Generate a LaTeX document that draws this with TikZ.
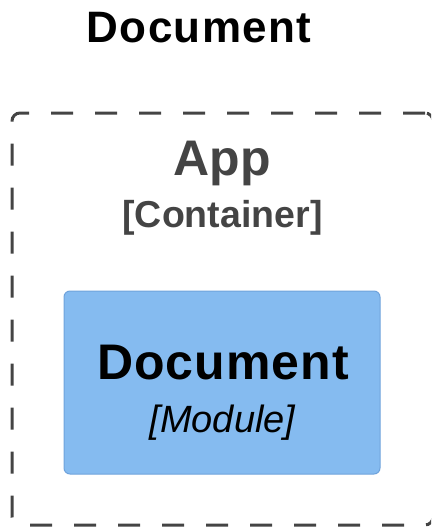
\documentclass[tikz,border=0pt]{standalone}
\usepackage{fontspec}
\setmainfont{Liberation Sans}
\definecolor{boundary}{HTML}{444444}
\definecolor{modfill}{HTML}{85BBF0}
\definecolor{modline}{HTML}{6FA3DC}
\tikzset{
  groupbox/.style={draw=boundary, line width=3pt, dash pattern=on 22pt off 22pt,
    rounded corners=8pt, rectangle, inner sep=0pt},
  modulebox/.style={draw=modline, fill=modfill, line width=1pt,
    rounded corners=6pt, rectangle, inner sep=0pt},
  label/.style={anchor=base, inner sep=0pt}
}
\begin{document}
\begin{tikzpicture}[x=1pt,y=-1pt]
\useasboundingbox (0,0) rectangle (431,527);
\clip (0,0) rectangle (431,527);
% diagram title
\node[label] (title) at (199,43) {\fontsize{44}{50}\selectfont\bfseries\addfontfeatures{LetterSpace=3}Document};
% container boundary
\node[groupbox, minimum width=421pt, minimum height=412pt] (app) at (222.5,319) {};
\node[label, text=boundary] (appname) at (222,175) {\fontsize{50}{56}\selectfont\bfseries App};
\node[label, text=boundary] (apptype) at (222.5,227) {\fontsize{37.5}{42}\selectfont\bfseries [Container]};
% module element
\node[modulebox, minimum width=316pt, minimum height=183pt] (doc) at (222,382.5) {};
\node[label] (docname) at (223,379) {\fontsize{50}{56}\selectfont\bfseries\addfontfeatures{LetterSpace=2}Document};
\node[label] (doctype) at (222.5,432) {\fontsize{38}{42}\selectfont\itshape [Module]};
\end{tikzpicture}
\end{document}
